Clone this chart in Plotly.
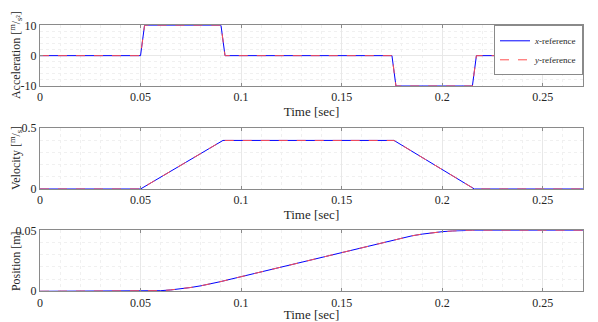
import plotly.graph_objects as go

# ---- data ----
acc_t = [0, 0.05, 0.052, 0.09, 0.092, 0.175, 0.177, 0.215, 0.217, 0.27]
acc_v = [0, 0, 10, 10, 0, 0, -10, -10, 0, 0]

vel_t = [0, 0.05, 0.091, 0.176, 0.216, 0.27]
vel_v = [0, 0, 0.4, 0.4, 0, 0]

pos_t = [0, 0.05, 0.055, 0.06, 0.065, 0.07, 0.075, 0.08, 0.085, 0.09, 0.095,
         0.10, 0.11, 0.12, 0.13, 0.14, 0.15, 0.16, 0.17, 0.175, 0.18, 0.185,
         0.19, 0.195, 0.20, 0.205, 0.21, 0.215, 0.27]
pos_v = [0, 0, 0.000125, 0.0005, 0.001125, 0.002, 0.003125, 0.0045, 0.006125,
         0.008, 0.010, 0.012, 0.016, 0.020, 0.024, 0.028, 0.032, 0.036, 0.040,
         0.042, 0.043875, 0.0455, 0.046875, 0.048, 0.048875, 0.0495, 0.049875,
         0.05, 0.05]

x_ticks = [0, 0.05, 0.1, 0.15, 0.2, 0.25]
x_labels = ["0", "0.05", "0.1", "0.15", "0.2", "0.25"]

panels = [
    dict(t=acc_t, v=acc_v, yr=[-10, 10], yt=[-10, 0, 10], yl=["-10", "0", "10"], ymin=2,
         title="Acceleration [<sup>m</sup>/<sub>s²</sub>]", dom=[0.7516, 0.9449], ymid=0.850),
    dict(t=vel_t, v=vel_v, yr=[0, 0.5], yt=[0, 0.5], yl=["0", "0.5"], ymin=0.1,
         title="Velocity [<sup>m</sup>/<sub>s</sub>]", dom=[0.4236, 0.6169], ymid=0.522),
    dict(t=pos_t, v=pos_v, yr=[0, 0.05], yt=[0, 0.05], yl=["0", "0.05"], ymin=0.01,
         title="Position [m]", dom=[0.0978, 0.2920], ymid=0.194),
]

FONT = "Liberation Serif, Times New Roman, serif"
AX = "#8a8a8a"
XDOM = [0.0542, 0.9746]
fig = go.Figure()
layout = dict(width=590, height=314, margin=dict(l=0, r=0, t=0, b=0, autoexpand=False),
              paper_bgcolor="white", plot_bgcolor="white",
              font=dict(family=FONT, size=12, color="#262626"),
              showlegend=True, annotations=[])

for i, p in enumerate(panels):
    n = "" if i == 0 else str(i + 1)
    xa, ya = "x" + n, "y" + n
    fig.add_trace(go.Scatter(x=p["t"], y=p["v"], mode="lines", xaxis=xa, yaxis=ya,
                             line=dict(color="rgb(0,0,255)", width=1),
                             name="<i>x</i>-reference", showlegend=(i == 0)))
    fig.add_trace(go.Scatter(x=p["t"], y=p["v"], mode="lines", xaxis=xa, yaxis=ya,
                             line=dict(color="rgb(255,80,80)", width=1, dash="dash"),
                             name="<i>y</i>-reference", showlegend=(i == 0)))
    layout["xaxis" + n] = dict(domain=XDOM, range=[0, 0.27], anchor=ya,
                               automargin=False,
                               tickvals=x_ticks, ticktext=x_labels, ticks="inside", ticklen=3,
                               tickcolor=AX, showline=True, linecolor=AX, linewidth=1, mirror="ticks",
                               showgrid=True, gridcolor="#e8e8e8", gridwidth=1, zeroline=False,
                               minor=dict(dtick=0.01, tick0=0, showgrid=True, gridcolor="#f0f0f0",
                                          griddash="dot", ticks=""),
                               tickfont=dict(family=FONT, size=12),
                               title=dict(text="Time [sec]", font=dict(family=FONT, size=13), standoff=1))
    layout["yaxis" + n] = dict(domain=p["dom"], range=p["yr"], anchor=xa,
                               automargin=False,
                               tickvals=p["yt"], ticktext=p["yl"], ticks="inside", ticklen=3,
                               tickcolor=AX, showline=True, linecolor=AX, linewidth=1, mirror="ticks",
                               showgrid=True, gridcolor="#e8e8e8", gridwidth=1, zeroline=False,
                               minor=dict(dtick=p["ymin"], tick0=0, showgrid=True, gridcolor="#f0f0f0",
                                          griddash="dot", ticks=""),
                               tickfont=dict(family=FONT, size=12))
    layout["annotations"].append(dict(text=p["title"], x=8 / 590, y=p["ymid"], xref="paper",
                                      yref="paper", textangle=-90, showarrow=False,
                                      font=dict(family=FONT, size=12), xanchor="center",
                                      yanchor="middle"))

layout["legend"] = dict(x=XDOM[1], y=0.9449, xanchor="right", yanchor="top",
                        bgcolor="white", bordercolor=AX, borderwidth=1,
                        font=dict(family=FONT, size=9), tracegroupgap=0,
                        itemwidth=30)
fig.update_layout(**layout)
fig.write_html("out.html")
